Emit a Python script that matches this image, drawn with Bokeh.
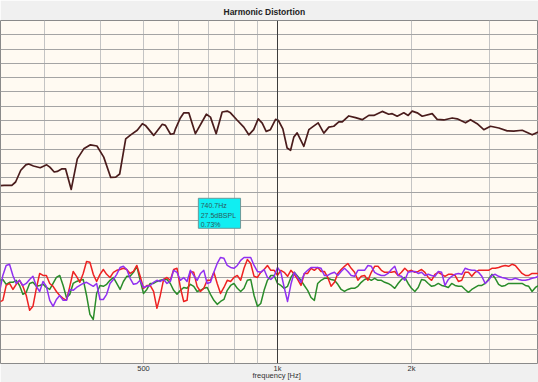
from bokeh.plotting import figure
from bokeh.models import FixedTicker, Span, Range1d, Title
from bokeh.embed import file_html
from bokeh.resources import INLINE
from bokeh.core.properties import value

# ---------------- data ----------------
# fundamental response (Hz, dBSPL)
fund_freq = [239, 243, 253, 258, 265, 272, 276, 283, 293, 303, 308, 315, 320, 328, 334,
             344, 355, 367, 380, 393, 407, 422, 433, 442, 456, 468, 484, 497, 505, 527,
             551, 560, 575, 585, 590, 605, 616, 632, 654, 692, 707, 728, 751, 771, 784,
             812, 840, 862, 884, 905, 924, 943, 964, 990, 1004, 1028, 1051, 1070, 1088, 1107,
             1146, 1176, 1197, 1234, 1271, 1304, 1338, 1373, 1398, 1446, 1497, 1550, 1604, 1646, 1719,
             1778, 1810, 1857, 1922, 1966, 2007, 2060, 2114, 2226, 2284, 2364, 2469, 2533, 2645, 2714,
             2809, 2907, 3010, 3142, 3281, 3395, 3546, 3734, 3852]
fund_db = [62.2, 62.3, 62.3, 63.5, 67.6, 69.5, 69.8, 69.1, 68.5, 69.5, 68.7, 67.0, 67.2, 68.1, 68.1,
           60.9, 71.6, 75.1, 76.5, 76.1, 72.2, 65.1, 65.2, 66.3, 78.6, 80.0, 81.6, 83.9, 83.3, 79.8,
           83.7, 83.3, 80.2, 80.4, 82.1, 85.9, 87.7, 87.7, 80.4, 87.2, 86.2, 80.4, 88.0, 88.3, 87.7,
           85.1, 82.7, 80.0, 81.8, 85.6, 84.1, 81.2, 81.8, 85.4, 85.1, 82.1, 75.4, 74.6, 79.2, 80.7,
           76.0, 81.8, 82.7, 84.2, 80.6, 82.7, 83.0, 84.5, 84.5, 86.6, 86.0, 85.3, 86.8, 86.8, 88.2,
           87.2, 87.4, 86.5, 87.7, 86.8, 88.3, 87.7, 86.5, 87.4, 85.4, 85.2, 85.9, 85.6, 84.2, 85.3,
           83.9, 81.8, 83.0, 82.4, 81.4, 81.3, 81.6, 80.0, 81.0]

# harmonic measurement frequencies (Hz)
harm_freq = [237.3, 241.5, 245.7,
             250.0, 254.4, 258.8, 263.3, 267.9, 272.6, 277.4, 282.2, 287.2, 292.2,
             297.3, 302.5, 307.8, 313.2, 318.6, 324.2, 329.9, 335.6, 341.5, 347.5,
             353.6, 359.7, 366.0, 372.4, 378.9, 385.6, 392.3, 399.2, 406.1, 413.2,
             420.4, 427.8, 435.3, 442.9, 450.6, 458.5, 466.5, 474.7, 483.0, 491.4,
             500.0, 508.7, 517.6, 526.7, 535.9, 545.3, 554.8, 564.5, 574.4, 584.4,
             594.6, 605.0, 615.6, 626.3, 637.3, 648.4, 659.8, 671.3, 683.0, 695.0,
             707.1, 719.5, 732.0, 744.8, 757.9, 771.1, 784.6, 798.3, 812.3, 826.5,
             840.9, 855.6, 870.6, 885.8, 901.3, 917.0, 933.0, 949.3, 965.9, 982.8,
             1000.0, 1017.5, 1035.3, 1053.4, 1071.8, 1090.5, 1109.6, 1129.0, 1148.7, 1168.8,
             1189.2, 1210.0, 1231.1, 1252.7, 1274.6, 1296.8, 1319.5, 1342.6, 1366.0, 1389.9,
             1414.2, 1438.9, 1464.1, 1489.7, 1515.7, 1542.2, 1569.2, 1596.6, 1624.5, 1652.9,
             1681.8, 1711.2, 1741.1, 1771.5, 1802.5, 1834.0, 1866.1, 1898.7, 1931.9, 1965.6,
             2000.0, 2035.0, 2070.5, 2106.7, 2143.5, 2181.0, 2219.1, 2257.9, 2297.4, 2337.6,
             2378.4, 2420.0, 2462.3, 2505.3, 2549.1, 2593.7, 2639.0, 2685.2, 2732.1, 2779.9,
             2828.4, 2877.9, 2928.2, 2979.4, 3031.4, 3084.4, 3138.4, 3193.2, 3249.0, 3305.8,
             3363.6, 3422.4, 3482.2, 3543.1, 3605.0, 3668.0, 3732.1, 3797.4, 3863.7]

red_db = [21.5, 22.1, 27.3, 28.0, 25.9, 27.7, 29.1, 27.0, 23.8, 18.6,
          20.0, 26.3, 31.5, 30.8, 30.8, 28.0, 27.0, 25.2, 23.8, 22.8,
          22.1, 27.0, 32.2, 30.5, 28.4, 31.5, 35.7, 35.4, 31.2, 28.7,
          31.2, 32.9, 31.2, 30.1, 31.9, 32.6, 32.9, 33.3, 32.9, 31.5,
          32.2, 34.3, 30.5, 26.3, 27.3, 27.3, 25.2, 19.3, 23.8, 29.4,
          30.1, 29.1, 32.9, 33.3, 26.6, 21.7, 22.1, 32.2, 31.9, 27.0,
          25.2, 26.3, 29.1, 29.1, 31.9, 28.0, 24.5, 26.6, 29.1, 28.7,
          30.1, 30.8, 29.1, 33.3, 36.4, 35.0, 30.5, 30.1, 31.9, 32.9,
          34.3, 32.6, 32.6, 30.8, 32.6, 31.9, 30.5, 32.6, 31.2, 29.4,
          27.3, 31.5, 31.5, 33.3, 32.6, 33.6, 32.2, 32.2, 30.1, 27.0,
          28.4, 31.5, 32.9, 34.0, 35.0, 33.3, 31.9, 29.1, 30.5, 30.8,
          29.1, 31.9, 34.0, 34.0, 32.6, 31.9, 31.9, 31.9, 32.2, 30.8,
          31.9, 33.3, 32.2, 32.6, 31.9, 32.2, 32.9, 31.9, 30.1, 29.1,
          31.2, 31.9, 31.2, 30.5, 31.2, 31.2, 30.8, 28.7, 29.1, 31.9,
          31.9, 30.5, 31.9, 32.6, 32.6, 32.6, 32.6, 33.3, 33.3, 33.6,
          34.0, 34.3, 34.0, 34.7, 34.3, 32.9, 31.5, 30.8, 30.8, 31.5,
          31.5, 31.5]

purple_db = [24.9, 30.8, 34.3, 34.7, 30.8, 28.0, 29.1, 27.3, 28.0, 29.4,
             30.5, 27.0, 25.2, 28.7, 27.0, 22.1, 20.0, 22.4, 23.8, 22.1,
             22.1, 25.9, 25.6, 26.6, 27.3, 28.0, 28.4, 27.7, 27.0, 28.0,
             22.4, 22.4, 24.2, 28.0, 29.4, 31.2, 33.6, 34.0, 32.9, 29.8,
             27.7, 28.0, 29.1, 26.6, 27.0, 27.3, 28.4, 29.1, 28.7, 29.4,
             28.0, 28.7, 32.6, 31.9, 29.1, 30.1, 28.7, 32.6, 30.8, 29.1,
             31.5, 32.6, 28.0, 28.4, 31.9, 35.0, 37.1, 36.8, 34.3, 33.6,
             33.3, 34.3, 36.1, 37.1, 37.1, 37.1, 34.3, 32.2, 31.9, 32.9,
             30.1, 29.4, 30.5, 33.6, 31.9, 26.6, 21.7, 27.7, 31.9, 30.1,
             28.4, 31.5, 32.6, 33.6, 33.6, 33.6, 33.3, 30.8, 30.8, 31.5,
             31.9, 30.8, 32.2, 33.3, 32.2, 30.8, 30.5, 32.6, 32.6, 32.6,
             34.3, 34.0, 31.9, 31.2, 30.8, 30.8, 31.5, 32.9, 34.0, 30.8,
             30.5, 29.1, 31.9, 32.2, 32.2, 31.5, 31.9, 30.8, 31.2, 30.8,
             30.5, 32.2, 31.9, 27.3, 29.4, 30.5, 31.2, 31.5, 31.2, 33.3,
             32.9, 32.6, 32.6, 31.9, 30.5, 28.0, 29.1, 30.8, 31.2, 30.5,
             30.1, 29.8, 29.4, 29.4, 29.8, 29.4, 29.1, 29.1, 29.4, 29.8,
             30.1, 30.5]

green_db = [29.1, 29.4, 27.7, 28.4, 28.4, 29.1, 27.3, 24.2, 24.9, 28.0,
            28.4, 27.0, 27.3, 27.7, 26.6, 25.9, 28.0, 30.1, 30.8, 27.3,
            23.1, 24.2, 28.0, 28.7, 29.1, 29.4, 23.8, 17.2, 15.4, 24.5,
            27.3, 27.0, 27.7, 29.1, 30.1, 28.0, 25.9, 28.7, 30.5, 30.5,
            31.9, 34.0, 29.1, 24.5, 25.9, 28.0, 28.0, 28.7, 29.1, 29.4,
            29.4, 28.0, 25.6, 24.2, 25.6, 26.6, 26.3, 27.7, 27.0, 25.2,
            25.6, 26.3, 26.6, 24.2, 22.1, 20.7, 21.7, 22.4, 25.6, 27.3,
            28.0, 26.3, 25.2, 26.3, 29.1, 29.4, 23.8, 20.0, 21.0, 25.6,
            29.1, 30.8, 30.8, 28.0, 27.3, 26.3, 27.0, 30.1, 31.9, 30.5,
            29.1, 27.3, 25.6, 23.1, 22.1, 28.0, 29.1, 29.8, 29.8, 29.4,
            29.1, 27.7, 25.9, 25.2, 25.9, 26.3, 26.3, 27.0, 28.4, 29.4,
            29.8, 29.1, 29.8, 29.1, 29.1, 28.4, 28.0, 27.3, 26.3, 28.0,
            29.4, 30.1, 28.0, 26.3, 25.2, 26.6, 29.4, 29.1, 28.0, 27.0,
            27.3, 28.0, 27.3, 27.0, 26.6, 28.0, 27.3, 27.0, 27.0, 25.9,
            24.9, 25.9, 26.6, 27.3, 27.3, 28.0, 29.4, 31.2, 29.8, 27.7,
            27.0, 27.3, 28.0, 28.0, 28.0, 28.0, 28.0, 27.3, 27.0, 25.2,
            26.6, 27.3]

x_ticks = [500, 1000, 2000]
x_tick_labels = ["500", "1k", "2k"]
freq_grid = [300, 400, 500, 600, 700, 800, 900, 1000, 2000, 3000]
level_grid = list(range(0, 121, 5))
cursor_freq = 740.7
cursor_spl = 27.5
cursor_thd = 0.73

FONT = "Liberation Sans"

p = figure(width=538, height=382, x_axis_type="log",
           x_range=Range1d(238.6, 3858), y_range=Range1d(0, 120),
           output_backend="svg", toolbar_location=None,
           y_axis_location=None,
           min_border_left=0, min_border_right=0,
           min_border_top=20, min_border_bottom=19)

p.border_fill_color = "#f0f0f0"
p.background_fill_color = "#fffaf2"
p.outline_line_color = "#8a8a8a"

# title (top bar)
p.title = Title(text="Harmonic Distortion", align="left", offset=223, standoff=8,
                text_font=FONT, text_font_style="bold", text_font_size="8.5px",
                text_color="#222222")

# grids
p.xgrid.ticker = FixedTicker(ticks=freq_grid)
p.xgrid.grid_line_color = "#c4c4c4"
p.ygrid.ticker = FixedTicker(ticks=level_grid)
p.ygrid.grid_line_color = "#a4a4a4"

# x axis
p.xaxis.ticker = FixedTicker(ticks=x_ticks)
p.xaxis.major_label_overrides = {t: s for t, s in zip(x_ticks, x_tick_labels)}
p.xaxis.axis_line_color = None
p.xaxis.major_tick_line_color = None
p.xaxis.minor_tick_line_color = None
p.xaxis.major_tick_out = 0
p.xaxis.major_label_standoff = 0
p.xaxis.major_label_text_font = FONT
p.xaxis.major_label_text_font_size = "7.5px"
p.xaxis.major_label_text_color = "#333333"

# axis caption below tick labels
p.add_layout(Title(text="frequency [Hz]", align="left", offset=252, standoff=-10,
                   vertical_align="top",
                   text_font=FONT, text_font_style="normal", text_font_size="7.5px",
                   text_color="#333333"), "below")

# cursor line
p.add_layout(Span(location=1000, dimension="height", line_color="#3c3c3c", line_width=1))

# curves
p.line(fund_freq, fund_db, line_color="#4a1c1c", line_width=1.7, line_join="round")
p.line(harm_freq, green_db, line_color="#2a8c2a", line_width=1.5, line_join="round")
p.line(harm_freq, red_db, line_color="#ee2222", line_width=1.5, line_join="round")
p.line(harm_freq, purple_db, line_color="#9030f0", line_width=1.5, line_join="round")

# cursor read-out box
p.quad(left=[664], right=[826], bottom=[47.3], top=[57.8],
       fill_color="#10eef2", line_color="#6a9a9a", line_width=1)
readout = [f"{cursor_freq}Hz", f"{cursor_spl}dBSPL", f"{cursor_thd}%"]
p.text(x=[672, 672, 672], y=[55.3, 51.9, 48.6], text=readout,
       text_font=value(FONT), text_font_size=value("7px"),
       text_color="#2a5a5a", text_baseline="middle", text_align="left")

open("out.html", "w").write(file_html(p, INLINE))
